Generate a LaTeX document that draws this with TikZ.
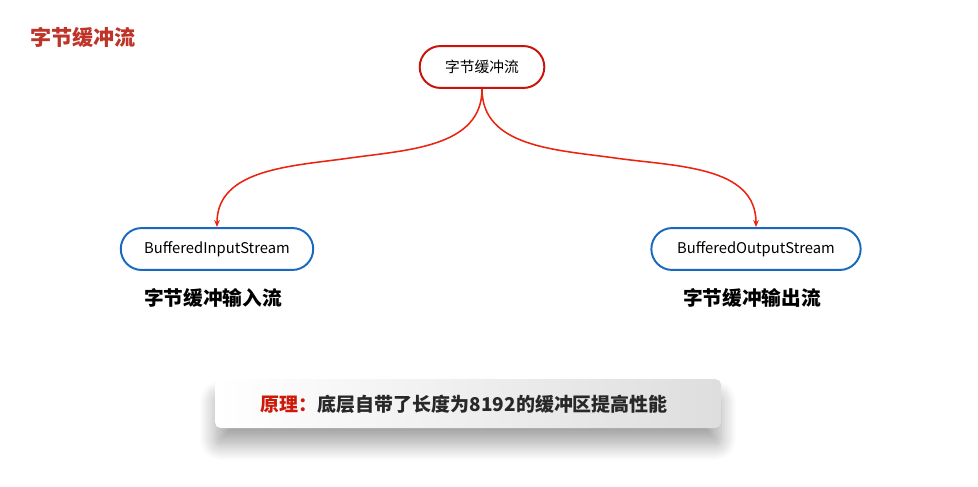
\documentclass[tikz,border=0pt]{standalone}
\usepackage{fontspec}
\setmainfont{Noto Sans CJK SC}
\usepackage{xcolor}
\usepackage{tikz}
\usetikzlibrary{arrows.meta,shadows.blur}
\definecolor{titlered}{RGB}{190,52,40}
\definecolor{pillred}{RGB}{200,20,10}
\definecolor{curvered}{RGB}{235,35,15}
\definecolor{pillblue}{RGB}{25,105,190}
\definecolor{notered}{RGB}{205,25,10}
\definecolor{notetext}{RGB}{40,40,40}
\pgfkeys{tikz/mypill/.style={draw,line width=1.4pt,rounded corners=14.8pt,minimum height=29.8pt,inner xsep=0pt,font=\fontsize{10.5pt}{12pt}\selectfont}}
\pgfkeys{tikz/mylabel/.style={font=\fontsize{14pt}{16pt}\selectfont\bfseries}}
\pgfkeys{tikz/mycurve/.style={draw=curvered,line width=1.1pt,-{Stealth[length=5pt,width=4pt]}}}
\pgfkeys{tikz/mynote/.style={rounded corners=4pt,left color=white,right color=black!13,blur shadow={shadow xshift=0pt,shadow yshift=-12pt,shadow blur steps=14,shadow blur radius=11pt,shadow opacity=35}}}

\begin{document}
\begin{tikzpicture}[x=0.025cm,y=-0.025cm]
    \useasboundingbox (0,0) rectangle (978,486);
    \node[text=titlered,font=\fontsize{15pt}{17pt}\selectfont\bfseries] (title) at (83,37) {字节缓冲流};
    \node[mypill,draw=pillred,minimum width=88.6pt] (top) at (482,67) {字节缓冲流};
    \node[mypill,draw=pillblue,minimum width=136.8pt] (in) at (217,249) {BufferedInputStream};
    \node[mypill,draw=pillblue,minimum width=148.8pt] (out) at (756,249) {BufferedOutputStream};
    \node[mylabel] (inlbl) at (213,298) {字节缓冲输入流};
    \node[mylabel] (outlbl) at (752,298) {字节缓冲输出流};
    \coordinate (midl) at (350,158);
    \coordinate (midr) at (615,158);
    \draw[mycurve] (top.south) to[out=-90,in=8] (midl) to[out=188,in=90] (in.north);
    \draw[mycurve] (top.south) to[out=-90,in=172] (midr) to[out=-8,in=90] (out.north);
    \path[mynote] (215,379) rectangle (721,428);
    \node[font=\fontsize{13.5pt}{16pt}\selectfont\bfseries,anchor=west] (note) at (256,404)
        {\textcolor{notered}{原理：}\textcolor{notetext}{底层自带了长度为8192的缓冲区提高性能}};
\end{tikzpicture}
\end{document}
